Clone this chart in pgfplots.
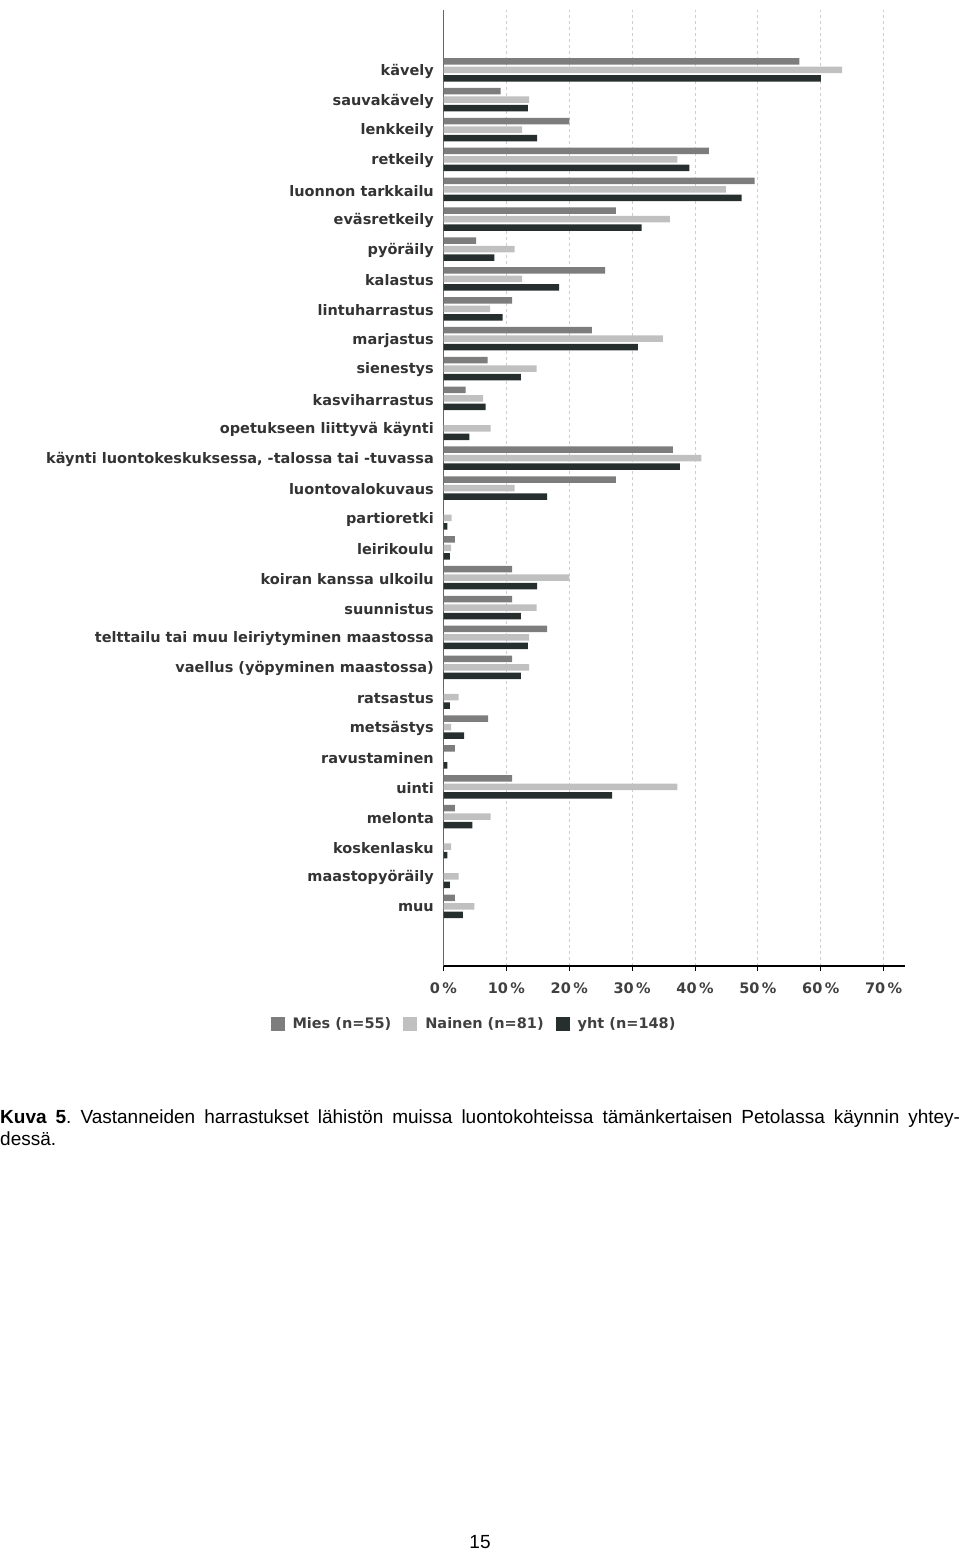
\documentclass[border=0pt]{standalone}
\usepackage{fontspec}
\setmainfont{Liberation Sans}
\newfontfamily\chartfont{DejaVu Sans}
\usepackage{graphicx}
\usepackage{pgfplots}
\pgfplotsset{compat=1.18}
\usepackage{pgfplotstable}
\definecolor{mies}{RGB}{125,125,125}
\definecolor{nainen}{RGB}{192,192,192}
\definecolor{yht}{RGB}{38,46,46}
\definecolor{gridc}{RGB}{205,205,205}

\pgfplotstableread{
y mies nainen yht
28 56.6 63.4 60.0
27 9.1 13.6 13.4
26 20.0 12.5 14.9
25 42.2 37.2 39.1
24 49.5 44.9 47.4
23 27.4 36.0 31.5
22 5.2 11.3 8.1
21 25.7 12.5 18.4
20 10.9 7.4 9.4
19 23.6 34.9 30.9
18 7.0 14.8 12.3
17 3.5 6.3 6.7
16 0 7.5 4.1
15 36.5 41.0 37.6
14 27.4 11.3 16.5
13 0 1.3 0.6
12 1.8 1.2 1.0
11 10.9 20.0 14.9
10 10.9 14.8 12.3
9 16.5 13.6 13.4
8 10.9 13.6 12.3
7 0 2.4 1.0
6 7.1 1.2 3.3
5 1.8 0 0.6
4 10.9 37.2 26.8
3 1.8 7.5 4.6
2 0 1.2 0.6
1 0 2.4 1.0
0 1.8 4.9 3.1
}\data

\begin{document}
\frenchspacing
\begin{tikzpicture}
\path[use as bounding box] (0pt,0pt) rectangle (960pt,-1550pt);
\begin{axis}[
  at={(443.5pt,-966pt)}, anchor=south west,
  scale only axis, width=461.5pt, height=956pt,
  xmin=0, xmax=73.4, ymin=-2, ymax=30,
  xbar, bar width=6.5pt,
  axis x line*=bottom, axis y line*=left,
  x axis line style={-, black, line width=1.3pt},
  y axis line style={-, black!60, line width=1pt},
  xtick={0,10,...,70},
  xticklabels={0\,\%,10\,\%,20\,\%,30\,\%,40\,\%,50\,\%,60\,\%,70\,\%},
  ytick={0,...,28},
  yticklabels={muu, maastopyöräily, koskenlasku, melonta, uinti, ravustaminen, metsästys, ratsastus, vaellus (yöpyminen maastossa), telttailu tai muu leiriytyminen maastossa, suunnistus, koiran kanssa ulkoilu, leirikoulu, partioretki, luontovalokuvaus, {käynti luontokeskuksessa, -talossa tai -tuvassa}, opetukseen liittyvä käynti, kasviharrastus, sienestys, marjastus, lintuharrastus, kalastus, pyöräily, eväsretkeily, luonnon tarkkailu, retkeily, lenkkeily, sauvakävely, kävely},
  tick align=outside,
  major tick length=5pt,
  xtick style={draw=black, line width=1pt},
  ytick style={draw=none},
  xmajorgrids,
  grid style={gridc, dashed, line width=0.8pt},
  yticklabel style={font=\chartfont\bfseries\fontsize{14.5}{16}\selectfont, color=black!80, inner sep=0pt, xshift=-4.5pt, yshift=-1.5pt},
  xticklabel style={font=\chartfont\bfseries\fontsize{14.5}{16}\selectfont, color=black!75, inner sep=0pt, yshift=-12pt},
  legend style={draw=none, fill=none, at={(0.066,-0.0607)}, anchor=center,
    font=\chartfont\bfseries\fontsize{14.5}{17}\selectfont, text=black!75,
    legend columns=3,
    /tikz/every odd column/.append style={column sep=6pt},
    /tikz/every even column/.append style={column sep=10pt}},
  legend image code/.code={\fill[#1] (0pt,-7pt) rectangle (14pt,7pt);},
]
\addplot[fill=mies, draw=none, bar shift=8.5pt] table[x=mies, y=y] {\data};
\addlegendentry{Mies (n=55)}
\addplot[fill=nainen, draw=none, bar shift=0pt] table[x=nainen, y=y] {\data};
\addlegendentry{Nainen (n=81)}
\addplot[fill=yht, draw=none, bar shift=-8.5pt] table[x=yht, y=y] {\data};
\addlegendentry{yht (n=148)}
\end{axis}
\node[anchor=north west, inner sep=0pt] at (0pt,-1110pt) {\parbox{960pt}{\fontsize{19}{22}\selectfont\frenchspacing\textbf{Kuva 5}. Vastanneiden harrastukset lähistön muissa luontokohteissa tämänkertaisen Petolassa käynnin yhtey-\linebreak dessä.}};
\node[inner sep=0pt] at (480pt,-1542pt) {\fontsize{19}{22}\selectfont 15};
\end{tikzpicture}
\end{document}
